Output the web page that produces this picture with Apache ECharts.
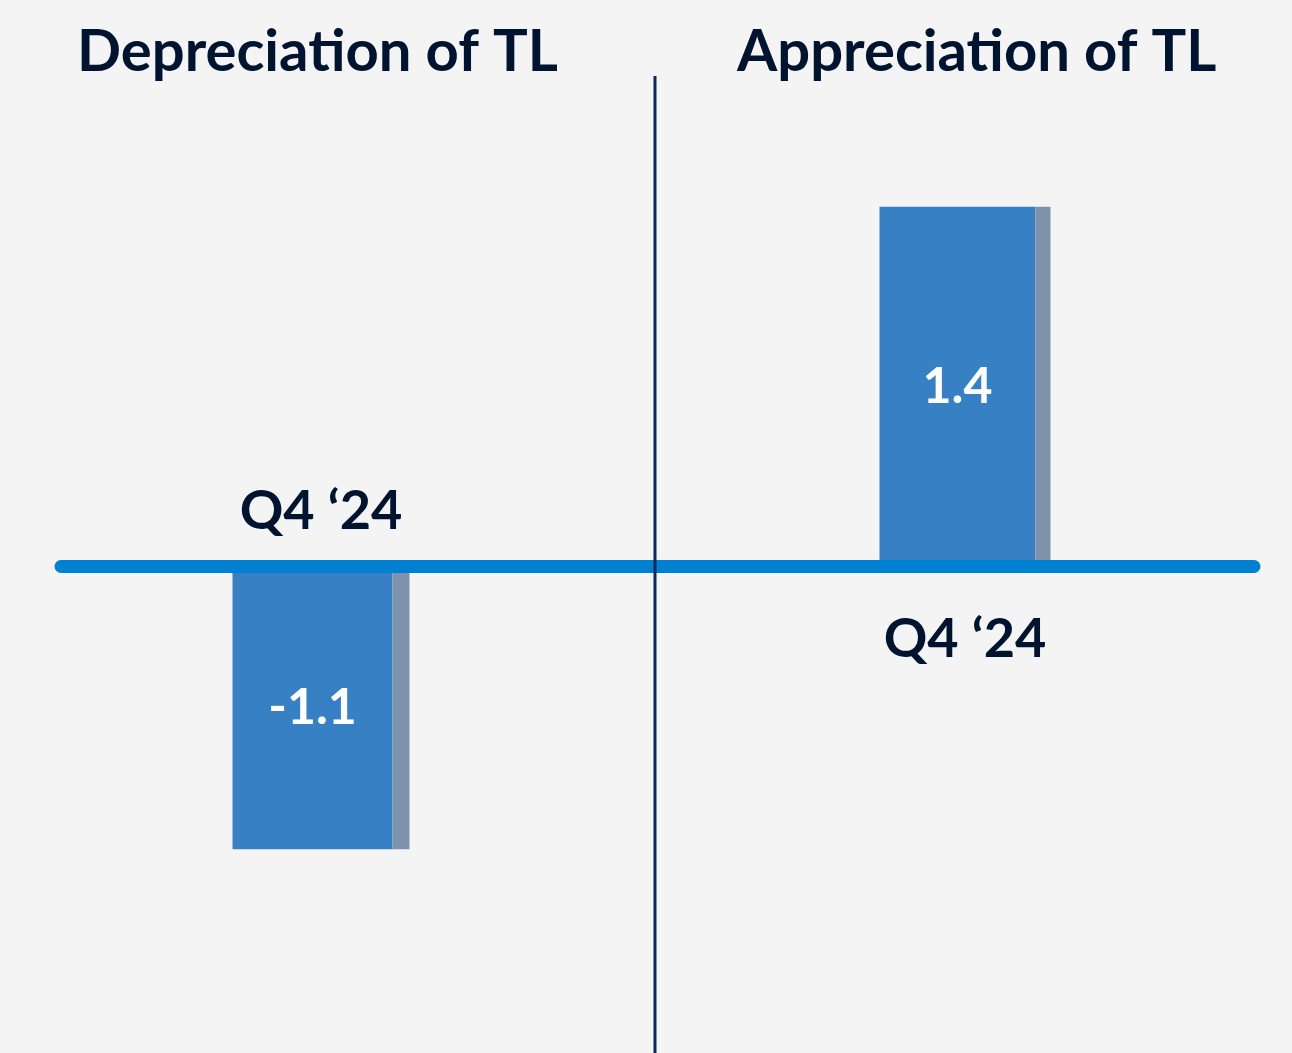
<!DOCTYPE html>
<html>
<head>
<meta charset="utf-8">
<script src="https://cdn.jsdelivr.net/npm/echarts@6/dist/echarts.min.js"></script>
<style>
  html, body { margin: 0; padding: 0; background: #f4f4f4; }
  #chart { width: 1292px; height: 1053px; }
</style>
</head>
<body>
<div id="chart"></div>
<script>
// data
var panelTitles = ['Depreciation of TL', 'Appreciation of TL'];
var leftCategories = ['Q4 \u201824'];
var rightCategories = ['Q4 \u201824'];
var leftValues = [-1.1];
var rightValues = [1.4];

var navy = '#00132f';
var barBlue = '#3780c4';
var barShade = '#7f92ab';
var lineBlue = '#0080d0';
var font = 'Lato';

// both panels share the same value scale so zero lines up
var yMin = -1.5, yMax = 1.5;
var gridTop = 181, gridHeight = 771;
// distance from grid bottom up to the zero line
var zeroOffset = gridHeight * (0 - yMin) / (yMax - yMin);

var makeY = function(idx) {
  return {
    type: 'value', gridIndex: idx, min: yMin, max: yMax,
    show: false
  };
};

// category axis moved up onto the zero line with offset
var makeX = function(idx, cats, labelAbove) {
  return {
    type: 'category', gridIndex: idx, data: cats,
    position: 'bottom', offset: -zeroOffset,
    axisLine: { show: false, onZero: false },
    axisTick: { show: false },
    splitLine: { show: false },
    axisLabel: {
      inside: labelAbove,
      margin: labelAbove ? 28 : 46,
      color: navy, fontFamily: font, fontWeight: 'bold', fontSize: 54
    }
  };
};

var makeBars = function(idx, values, mainWidth, shadeWidth) {
  return [
    {
      name: 'main', type: 'bar', xAxisIndex: idx, yAxisIndex: idx,
      data: values, barWidth: mainWidth, barGap: '0%',
      itemStyle: { color: barBlue },
      label: {
        show: true, position: 'inside',
        color: '#ffffff', fontFamily: font, fontWeight: 'bold', fontSize: 50
      }
    },
    {
      name: 'shade', type: 'bar', xAxisIndex: idx, yAxisIndex: idx,
      data: values, barWidth: shadeWidth, barGap: '0%',
      itemStyle: { color: barShade },
      silent: true
    }
  ];
};

var chart = echarts.init(document.getElementById('chart'));
var option = {
  backgroundColor: '#f4f4f4',
  animation: false,
  title: [
    {
      text: panelTitles[0], left: 72, top: 18,
      textStyle: { color: navy, fontFamily: font, fontWeight: 'bold', fontSize: 58 }
    },
    {
      text: panelTitles[1], left: 732, top: 18,
      textStyle: { color: navy, fontFamily: font, fontWeight: 'bold', fontSize: 58 }
    }
  ],
  grid: [
    { left: 55, width: 532, top: gridTop, height: gridHeight },
    { left: 670, width: 590, top: gridTop, height: gridHeight },
    // full-width grid that only carries the horizontal zero line
    { left: 61, width: 1193, top: gridTop, height: gridHeight }
  ],
  xAxis: [
    makeX(0, leftCategories, true),
    makeX(1, rightCategories, false),
    {
      type: 'category', gridIndex: 2, data: [''], z: 10,
      axisLine: { onZero: true, lineStyle: { color: lineBlue, width: 13, cap: 'round' } },
      axisTick: { show: false },
      axisLabel: { show: false },
      splitLine: { show: false }
    }
  ],
  yAxis: [makeY(0), makeY(1), makeY(2)],
  graphic: [
    {
      type: 'line', z: 20,
      shape: { x1: 655, y1: 76, x2: 655, y2: 1053 },
      style: { stroke: '#0d2a5a', lineWidth: 3 }
    }
  ],
  series: makeBars(0, leftValues, 160, 17).concat(makeBars(1, rightValues, 156, 15))
};
chart.setOption(option);
</script>
</body>
</html>
